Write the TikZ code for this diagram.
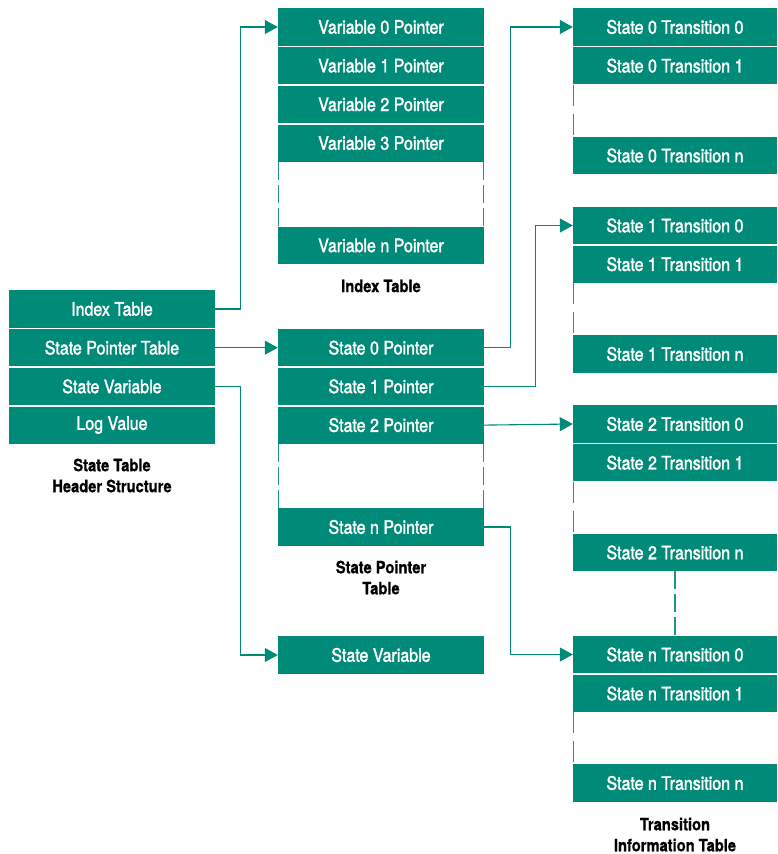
\documentclass[tikz,border=0pt]{standalone}
\usepackage{fontspec}
\setmainfont{TeX Gyre Heros}[FakeStretch=0.865,
  UprightFeatures={FakeBold=1.8}, BoldFeatures={FakeBold=0.8}]
\usepackage{tikz}
\usetikzlibrary{arrows.meta, calc}
\definecolor{tealbox}{HTML}{008A78}
\definecolor{tealline}{HTML}{1F9483}

\begin{document}
\begin{tikzpicture}[x=1pt, y=-1pt,
    cell/.style={fill=tealbox, text=white, minimum width=206pt,
                 minimum height=37.2pt, inner sep=0pt,
                 font=\fontsize{18.5}{20}\selectfont},
    wide/.style={cell, minimum width=204pt},
    caption/.style={align=center, font=\bfseries\fontsize{17}{21}\selectfont},
    link/.style={draw=tealbox, line width=1.1pt,
                 -{Triangle[length=13pt, width=14pt]}},
    gapline/.style={draw=tealline, line width=1.1pt,
                    dash pattern=on 18pt off 5pt},
    shortgap/.style={gapline, dash pattern=on 21pt off 8pt},
  ]
    \useasboundingbox (0,0) rectangle (777,854);

    % header structure
    \node[cell] (idx) at (112,309) {Index Table};
    \node[cell] (spt) at (112,347.7) {State Pointer Table};
    \node[cell] (sv) at (112,386.4) {State Variable};
    \node[cell] (lv) at (112,425.1) {Log Value};
    \node[caption] (hdrcap) at (112,475.5) {State Table\\Header Structure};

    % index table
    \node[cell] (v0) at (381,27) {Variable 0 Pointer};
    \node[cell] (v1) at (381,65.7) {Variable 1 Pointer};
    \node[cell] (v2) at (381,104.4) {Variable 2 Pointer};
    \node[cell] (v3) at (381,143.1) {Variable 3 Pointer};
    \node[cell] (vn) at (381,245.5) {Variable n Pointer};
    \node[caption] (idxcap) at (381,286) {Index Table};
    \draw[gapline] ([xshift=0.5pt]v3.south west) -- ([xshift=0.5pt]vn.north west);
    \draw[gapline] ([xshift=-0.5pt]v3.south east) -- ([xshift=-0.5pt]vn.north east);

    % state pointer table
    \node[cell] (sp0) at (381,347.7) {State 0 Pointer};
    \node[cell] (sp1) at (381,386.4) {State 1 Pointer};
    \node[cell] (sp2) at (381,425.1) {State 2 Pointer};
    \node[cell] (spn) at (381,527) {State n Pointer};
    \node[caption] (spcap) at (381,577.5) {State Pointer\\Table};
    \draw[gapline] ([xshift=0.5pt]sp2.south west) -- ([xshift=0.5pt]spn.north west);
    \draw[gapline] ([xshift=-0.5pt]sp2.south east) -- ([xshift=-0.5pt]spn.north east);

    \node[cell] (svar) at (381,655) {State Variable};

    % transition information table
    \node[wide] (t00) at (675,27) {State 0 Transition 0};
    \node[wide] (t01) at (675,65.7) {State 0 Transition 1};
    \node[wide] (t0n) at (675,155.5) {State 0 Transition n};
    \node[wide] (t10) at (675,225.5) {State 1 Transition 0};
    \node[wide] (t11) at (675,264.2) {State 1 Transition 1};
    \node[wide] (t1n) at (675,354) {State 1 Transition n};
    \node[wide] (t20) at (675,424) {State 2 Transition 0};
    \node[wide] (t21) at (675,462.7) {State 2 Transition 1};
    \node[wide] (t2n) at (675,552.5) {State 2 Transition n};
    \node[wide] (tn0) at (675,654.5) {State n Transition 0};
    \node[wide] (tn1) at (675,693.5) {State n Transition 1};
    \node[wide] (tnn) at (675,783) {State n Transition n};
    \node[caption] (trcap) at (675,834.5) {Transition\\Information Table};
    \draw[shortgap] ([xshift=0.5pt]t01.south west) -- ([xshift=0.5pt]t0n.north west);
    \draw[shortgap] ([xshift=0.5pt]t11.south west) -- ([xshift=0.5pt]t1n.north west);
    \draw[shortgap] ([xshift=0.5pt]t21.south west) -- ([xshift=0.5pt]t2n.north west);
    \draw[shortgap] ([xshift=0.5pt]tn1.south west) -- ([xshift=0.5pt]tnn.north west);
    \draw[gapline] (t2n.south) -- (tn0.north);

    % pointers
    \draw[link] (idx.east) -- ++(25,0) |- (v0.west);
    \draw[link] (spt.east) -- (sp0.west);
    \draw[link] (sv.east) -- ++(25,0) |- (svar.west);
    \draw[link] (sp0.east) -- ++(26,0) |- (t00.west);
    \draw[link] (sp1.east) -- ++(51,0) |- (t10.west);
    \draw[link] (sp2.east) -- (t20.west);
    \draw[link] (spn.east) -- ++(26,0) |- (tn0.west);
  \end{tikzpicture}
\end{document}
